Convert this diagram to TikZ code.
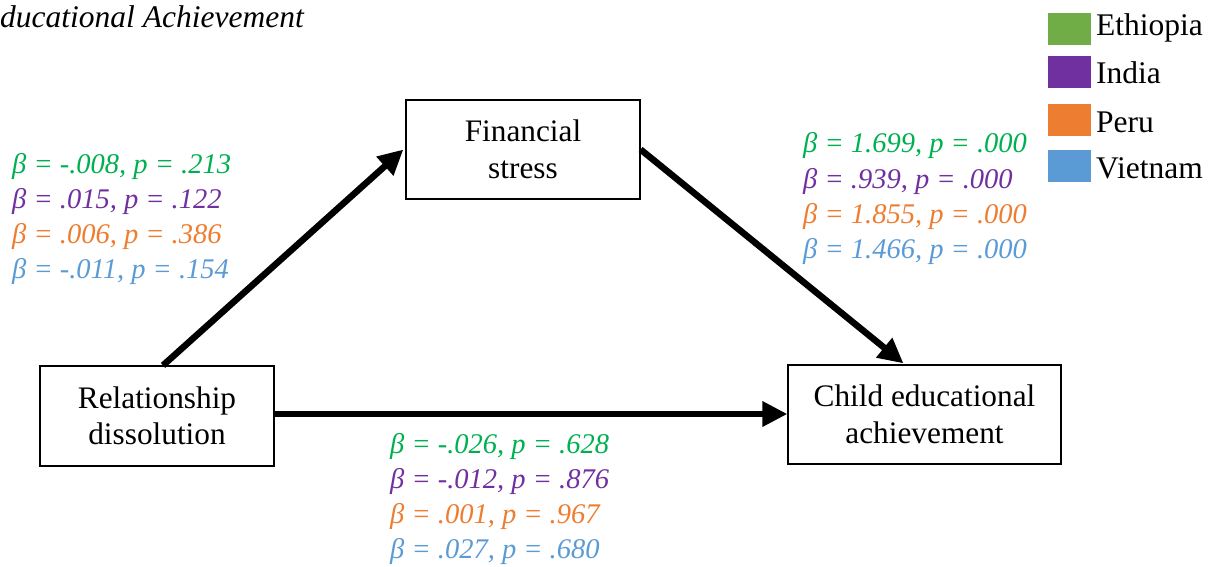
\documentclass[tikz,border=0pt]{standalone}
\usepackage{fontspec}
\setmainfont{Liberation Serif}
\usetikzlibrary{arrows.meta,calc}
\definecolor{cgreen}{HTML}{00B050}
\definecolor{lgreen}{HTML}{70AD47}
\definecolor{cpurple}{HTML}{7030A0}
\definecolor{corange}{HTML}{ED7D31}
\definecolor{cblue}{HTML}{5B9BD5}
\begin{document}
\begin{tikzpicture}[x=1pt,y=-1pt,
  box/.style={draw=black,line width=1.2pt,inner sep=0pt,align=center,
    font=\fontsize{31.3}{36.5}\selectfont},
  stat/.style={anchor=base west,inner sep=0pt,font=\fontsize{28.5}{34}\selectfont\itshape},
  leg/.style={anchor=base west,inner sep=0pt,font=\fontsize{31.5}{36}\selectfont},
  sq/.style={inner sep=0pt,minimum width=43pt,minimum height=32pt,anchor=north west},
  arr/.style={line width=6.5pt,-{Triangle[length=25pt,width=24pt]}}]
\useasboundingbox (0,0) rectangle (1216,566);
% title
\node[anchor=base west,inner sep=0pt,font=\fontsize{31.5}{36}\selectfont\itshape] (title) at (0,27) {ducational Achievement};
% boxes
\node[box,minimum width=234pt,minimum height=99pt] (fin) at (523,149.5) {Financial\\stress};
\node[box,minimum width=234pt,minimum height=100pt] (rel) at (157,416) {Relationship\\dissolution};
\node[box,minimum width=273pt,minimum height=99pt] (child) at (924.5,414.5) {Child educational\\achievement};
% arrows
\draw[arr] ($(rel.north)+(6,0)$) -- ($(fin.west)+(-2,0)$);
\draw[arr] (fin.east) -- ($(child.north)+(-21,-1)$);
\draw[arr] (rel.east |- 0,414) -- (child.west |- 0,414);
% left stats
\node[stat,text=cgreen] (a1) at (12,173) {β = -.008, p = .213};
\node[stat,text=cpurple] (a2) at (12,208) {β = .015, p = .122};
\node[stat,text=corange] (a3) at (12,243) {β = .006, p = .386};
\node[stat,text=cblue] (a4) at (12,278) {β = -.011, p = .154};
% right stats
\node[stat,text=cgreen] (b1) at (803,152) {β = 1.699, p = .000};
\node[stat,text=cpurple] (b2) at (803,188) {β = .939, p = .000};
\node[stat,text=corange] (b3) at (803,223) {β = 1.855, p = .000};
\node[stat,text=cblue] (b4) at (803,258) {β = 1.466, p = .000};
% bottom stats
\node[stat,text=cgreen] (c1) at (390,453) {β = -.026, p = .628};
\node[stat,text=cpurple] (c2) at (390,488) {β = -.012, p = .876};
\node[stat,text=corange] (c3) at (390,523) {β = .001, p = .967};
\node[stat,text=cblue] (c4) at (390,558) {β = .027, p = .680};
% legend
\node[sq,fill=lgreen] (s1) at (1048,13) {};
\node[sq,fill=cpurple] (s2) at (1048,56) {};
\node[sq,fill=corange] (s3) at (1048,104) {};
\node[sq,fill=cblue] (s4) at (1048,150) {};
\node[leg] (t1) at (1096,35) {Ethiopia};
\node[leg] (t2) at (1096,83) {India};
\node[leg] (t3) at (1096,132) {Peru};
\node[leg] (t4) at (1096,178) {Vietnam};
\end{tikzpicture}
\end{document}
